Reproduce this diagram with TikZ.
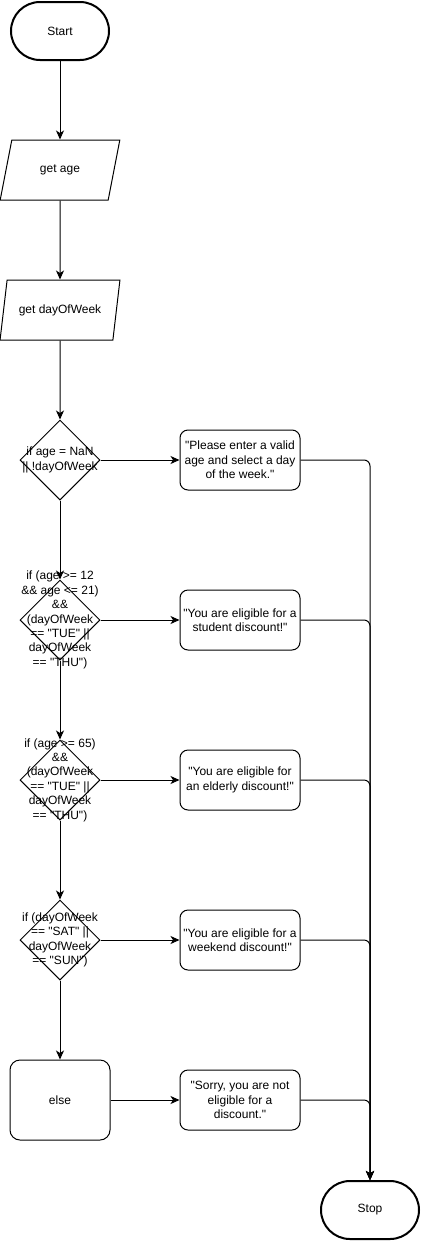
\documentclass[tikz,border=0pt]{standalone}
\usepackage{fontspec}
\setmainfont{Liberation Sans}[Ligatures=TeXOff]
\usetikzlibrary{shapes.geometric,arrows.meta,positioning}

\begin{document}
\begin{tikzpicture}[x=1pt,y=-1pt,
    font=\fontsize{12}{14.4}\selectfont,
    line width=1pt,
    terminal/.style={draw, line width=2pt, rounded corners=29pt, minimum width=98pt, minimum height=58pt},
    inputbox/.style={draw, trapezium, trapezium left angle=71.57, trapezium right angle=108.43, trapezium stretches=true, minimum width=120pt, minimum height=60pt},
    decision/.style={draw, diamond, minimum width=80pt, minimum height=80pt, inner sep=0pt},
    cond/.style={align=center, inner sep=0pt},
    msgbox/.style={draw, rounded corners=8pt, minimum width=120pt, minimum height=60pt, align=center},
    elsebox/.style={draw, rounded corners=10pt, minimum width=100pt, minimum height=80pt},
    arrow/.style={-{Stealth[length=9pt,width=8pt,inset=2.5pt]}}]
    \useasboundingbox (0,0) rectangle (422,1242);
    % main column
    \node[terminal] (start) at (60,31) {Start};
    \node[inputbox] (getage) at (60,170) {get age};
    \node[inputbox] (getday) at (60,310) {get dayOfWeek};
    \node[decision, label={[cond]center:if age = NaN\\|| !dayOfWeek}] (d1) at (60,460) {};
    \node[decision, label={[cond]center:if (age >= 12\\\&\& age <= 21)\\\&\&\\(dayOfWeek\\== "TUE" ||\\dayOfWeek\\== "THU")}] (d2) at (60,620) {};
    \node[decision, label={[cond]center:if (age >= 65)\\\&\&\\(dayOfWeek\\== "TUE" ||\\dayOfWeek\\== "THU")}] (d3) at (60,780) {};
    \node[decision, label={[cond]center:if (dayOfWeek\\== "SAT" ||\\dayOfWeek\\== "SUN")}] (d4) at (60,940) {};
    \node[elsebox] (els) at (60,1100) {else};
    % messages
    \node[msgbox] (m1) at (240,460) {"Please enter a valid\\age and select a day\\of the week."};
    \node[msgbox] (m2) at (240,620) {"You are eligible for a\\student discount!"};
    \node[msgbox] (m3) at (240,780) {"You are eligible for\\an elderly discount!"};
    \node[msgbox] (m4) at (240,940) {"You are eligible for a\\weekend discount!"};
    \node[msgbox] (m5) at (240,1100) {"Sorry, you are not\\eligible for a\\discount."};
    \node[terminal] (stop) at (370,1210) {Stop};

    \draw[arrow] (start) -- (getage);
    \draw[arrow] (getage) -- (getday);
    \draw[arrow] (getday) -- (d1);
    \draw[arrow] (d1) -- (d2);
    \draw[arrow] (d2) -- (d3);
    \draw[arrow] (d3) -- (d4);
    \draw[arrow] (d4) -- (els);
    \draw[arrow] (d1) -- (m1);
    \draw[arrow] (d2) -- (m2);
    \draw[arrow] (d3) -- (m3);
    \draw[arrow] (d4) -- (m4);
    \draw[arrow] (els) -- (m5);
    \foreach \m in {m1,m2,m3,m4,m5}
        \draw[arrow, rounded corners=6pt] (\m.east) -| (stop.north);
\end{tikzpicture}
\end{document}
